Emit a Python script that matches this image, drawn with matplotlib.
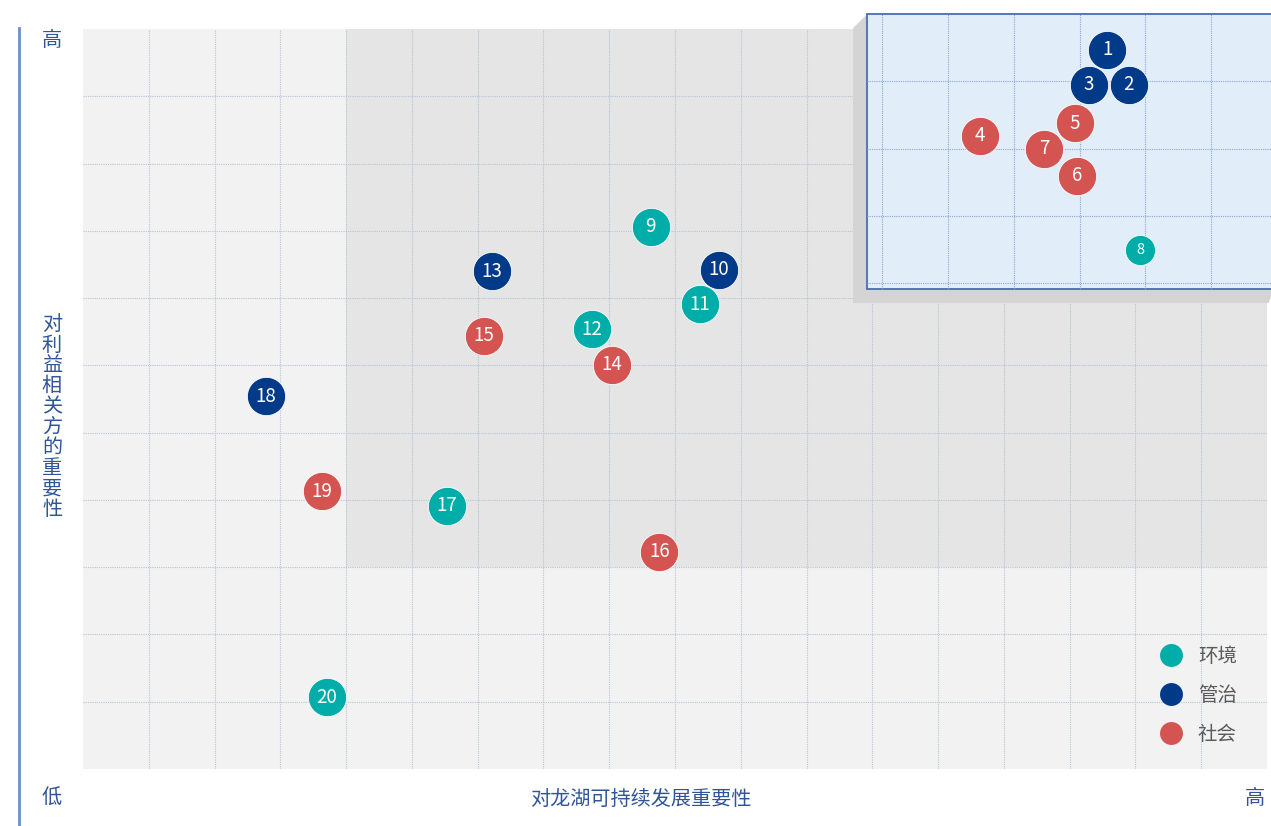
import matplotlib
matplotlib.use('Agg')
import matplotlib.pyplot as plt
from matplotlib.patches import Rectangle, Polygon
from matplotlib.lines import Line2D

plt.rcParams['font.family'] = ['Noto Sans CJK SC', 'DejaVu Sans']

# Data: issue number, x = importance to Longfor, y = importance to stakeholders
issue_ids = [1, 2, 3, 4, 5, 6, 7, 8, 9, 10, 11, 12, 13, 14, 15, 16, 17, 18, 19, 20]
x_vals = [15.57, 15.90, 15.29, 13.64, 15.08, 15.11, 14.61, 16.07, 8.63, 9.67,
          9.38, 7.74, 6.22, 8.04, 6.10, 8.76, 5.53, 2.78, 3.63, 3.71]
y_vals = [10.69, 10.17, 10.17, 9.41, 9.60, 8.82, 9.22, 7.72, 8.06, 7.42,
          6.91, 6.54, 7.40, 6.01, 6.44, 3.23, 3.91, 5.54, 4.13, 1.07]
categories = ['管治', '管治', '管治', '社会', '社会', '社会', '社会', '环境', '环境', '管治',
              '环境', '环境', '管治', '社会', '社会', '社会', '环境', '管治', '社会', '环境']
legend_order = ['环境', '管治', '社会']

colors = {'环境': '#00ada9', '管治': '#023a8a', '社会': '#d45452'}
label_blue = '#2f5597'

W, H = 1271, 826
fig = plt.figure(figsize=(W / 100, H / 100), dpi=100)
fig.patch.set_facecolor('white')

# main plotting area in pixels: x 83..1267, y 29..769
ax = fig.add_axes([83 / W, (H - 769) / H, (1267 - 83) / W, (769 - 29) / H])
ax.set_xlim(0, 18)
ax.set_ylim(0, 11)
ax.set_facecolor('#f2f2f2')
for s in ax.spines.values():
    s.set_visible(False)
ax.set_xticks([])
ax.set_yticks([])

# darker middle zone
ax.add_patch(Rectangle((4, 3), 14, 8, facecolor='#e5e5e5', edgecolor='none', zorder=0.2))

# dotted grid
grid_kw = dict(color='#b7c3dc', lw=0.8, ls=(0, (1, 1)), zorder=0.6)
for gx in range(1, 18):
    ax.axvline(gx, **grid_kw)
for gy in range(1, 11):
    ax.axhline(gy, **grid_kw)

# raised "zoom" panel in the upper right (shadow + light blue block)
ux, uy = 1 / 65.78, 1 / 67.27   # data units per pixel
x0, y0 = 11.92, 7.135
x1, y1 = 18.1, 11.22
d = 14
shadow = Polygon([(x0 - d * ux, y1 - d * uy), (x0, y1), (x1, y1),
                  (x1, y0), (x1 - 5 * ux, y0 - d * uy), (x0 - d * ux, y0 - d * uy)],
                 closed=True, facecolor='#d4d4d4', edgecolor='none', zorder=2, clip_on=False)
ax.add_patch(shadow)
panel = Rectangle((x0, y0), x1 - x0, y1 - y0, facecolor='#e1edf9', edgecolor='#4a6db0',
                  lw=1.3, zorder=2.2, clip_on=False)
ax.add_patch(panel)
inset_grid = dict(color='#8ea5d0', lw=0.8, ls=(0, (1, 1)), zorder=2.4, clip_on=False)
for gx in range(12, 18):
    ax.plot([gx + 10 * ux, gx + 10 * ux], [y0, y1], **inset_grid)
for gy in range(7, 12):
    yy = gy + 15 * uy
    if y0 < yy < y1:
        ax.plot([x0, x1], [yy, yy], **inset_grid)

# bubbles
for i, x, y, c in zip(issue_ids, x_vals, y_vals, categories):
    small = (i == 8)
    ax.scatter(x, y, s=470 if small else 760, color=colors[c], edgecolors='white',
               linewidths=0.6, zorder=4, clip_on=False)
    ax.text(x, y, str(i), color='white', fontsize=10.5 if small else 13.5,
            ha='center', va='center', zorder=5)

# legend
handles = [Line2D([], [], marker='o', ls='none', markersize=16.5, markerfacecolor=colors[c],
                  markeredgecolor='none', label=c) for c in legend_order]
leg = ax.legend(handles=handles, loc='lower right', bbox_to_anchor=(0.986, 0.014), frameon=False,
                fontsize=14, labelspacing=0.93, handletextpad=0.4, borderaxespad=0.3)
for t in leg.get_texts():
    t.set_color('#595959')

# axis labels
fig.add_artist(Line2D([19 / W, 19 / W], [0, (H - 28) / H], color='#6f8fca', lw=2))
fig.text(52 / W, 1 - 40 / H, '高', color=label_blue, fontsize=14.5, ha='center', va='center')
fig.text(52 / W, 1 - 798 / H, '低', color=label_blue, fontsize=14.5, ha='center', va='center')
fig.text(1255 / W, 1 - 798 / H, '高', color=label_blue, fontsize=14.5, ha='center', va='center')
fig.text(641 / W, 1 - 799 / H, '对龙湖可持续发展重要性', color=label_blue, fontsize=14.5,
         ha='center', va='center')
fig.text(52 / W, 1 - 417 / H, '\n'.join('对利益相关方的重要性'), color=label_blue, fontsize=14.5,
         ha='center', va='center', linespacing=0.97)

fig.savefig('out.png', dpi=100, facecolor='white')
